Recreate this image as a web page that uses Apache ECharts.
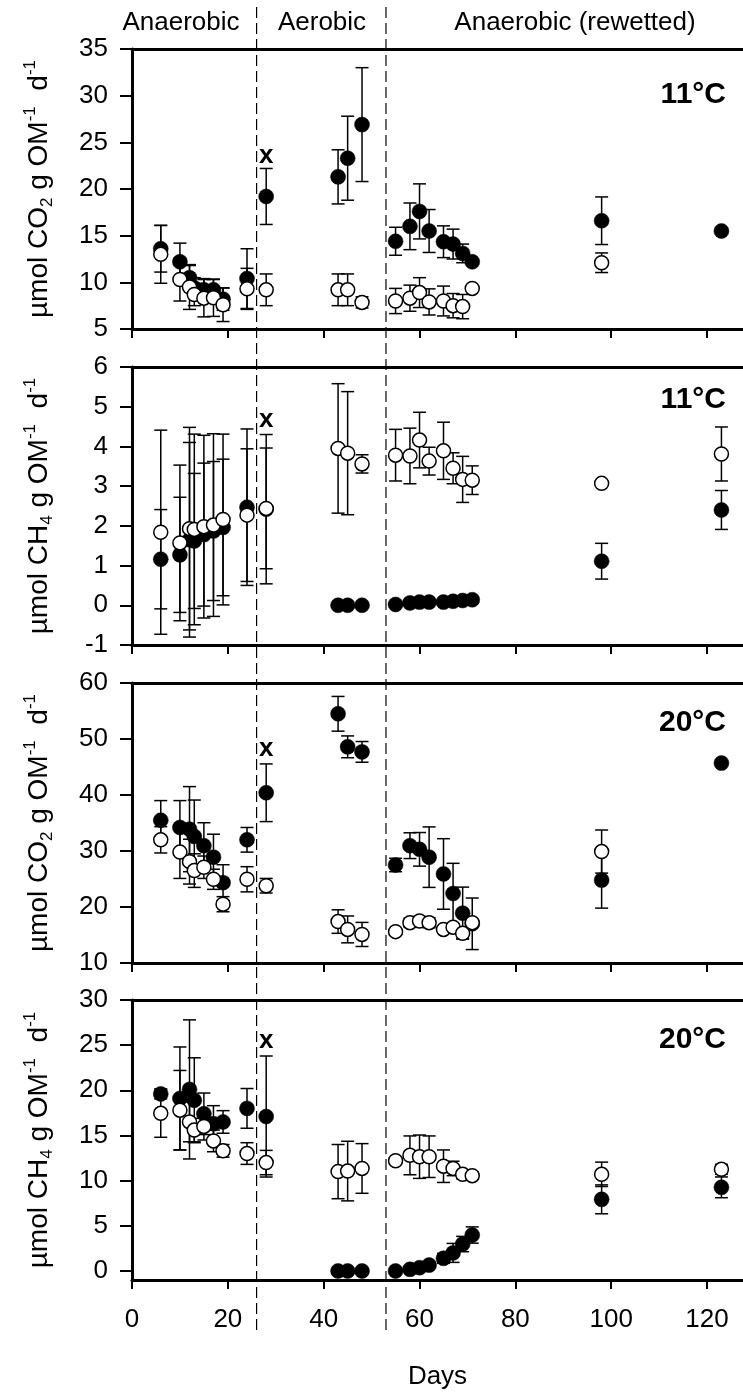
<!DOCTYPE html>
<html>
<head>
<meta charset="utf-8">
<script src="https://cdn.jsdelivr.net/npm/echarts@6/dist/echarts.min.js"></script>
<style>
html, body { margin: 0; padding: 0; background: #fff; }
#chart { width: 743px; height: 1392px; }
</style>
</head>
<body>
<div id="chart"></div>
<script>
// Sampling days (incubation time)
const days = [6, 10, 12, 13, 15, 17, 19, 24, 28, 43, 45, 48, 55, 58, 60, 62, 65, 67, 69, 71, 98, 123];

// CO2 production at 11°C (filled = treatment A, open = treatment B), mean and SD
const co2_11_filled     = [13.6, 12.2, 10.5, 9.4, 9.2, 9.2, 8.2, 10.4, 19.2, 21.3, 23.3, 26.9, 14.4, 16.0, 17.6, 15.5, 14.35, 14.1, 13.1, 12.2, 16.6, 15.5];
const co2_11_filled_err = [2.5, 2.0, 1.3, 1.1, 1.2, 1.1, 1.2, 3.2, 3.0, 2.9, 4.5, 6.1, 1.5, 2.5, 2.95, 2.3, 1.7, 1.6, 1.0, 0, 2.55, 0];
const co2_11_open       = [13.0, 10.3, 9.5, 8.7, 8.3, 8.35, 7.6, 9.3, 9.2, 9.2, 9.2, 7.85, 8.0, 8.3, 8.9, 7.9, 8.0, 7.5, 7.4, 9.35, 12.1, null];
const co2_11_open_err   = [3.1, 2.3, 2.4, 1.2, 2.0, 2.0, 1.8, 2.2, 1.7, 1.7, 1.7, 0.6, 1.35, 1.4, 1.6, 1.4, 1.6, 1.3, 1.3, 0, 1.05, null];

// CH4 production at 11°C
const ch4_11_filled     = [1.16, 1.27, 1.65, 1.62, 1.78, 1.87, 1.96, 2.47, 2.42, 0.0, 0.0, 0.0, 0.02, 0.06, 0.08, 0.08, 0.08, 0.1, 0.12, 0.14, 1.11, 2.40];
const ch4_11_filled_err = [1.25, 1.45, 2.45, 1.7, 1.8, 1.75, 1.72, 1.97, 1.88, 0, 0, 0, 0, 0, 0, 0, 0, 0, 0, 0.08, 0.45, 0.49];
const ch4_11_open       = [1.84, 1.57, 1.93, 1.91, 1.98, 2.02, 2.16, 2.27, 2.44, 3.95, 3.83, 3.56, 3.78, 3.76, 4.16, 3.63, 3.89, 3.45, 3.17, 3.15, 3.07, 3.81];
const ch4_11_open_err   = [2.57, 1.96, 2.55, 2.4, 2.3, 2.3, 2.15, 1.67, 1.52, 1.63, 1.55, 0.23, 0.65, 0.7, 0.7, 0.35, 0.72, 0.39, 0.58, 0.36, 0, 0.68];

// CO2 production at 20°C
const co2_20_filled     = [35.5, 34.2, 33.9, 32.6, 30.95, 28.9, 24.35, 32.0, 40.4, 54.5, 48.6, 47.7, 27.5, 30.95, 30.3, 28.9, 25.9, 22.4, 18.9, 17.0, 24.8, 45.7];
const co2_20_filled_err = [3.5, 4.8, 7.6, 6.5, 4.1, 4.1, 3.2, 2.2, 5.15, 3.1, 1.95, 1.85, 1.2, 2.3, 3.0, 5.4, 6.3, 5.4, 4.65, 4.6, 5.0, 0];
const co2_20_open       = [32.0, 29.8, 28.1, 26.5, 27.1, 24.95, 20.5, 24.95, 23.8, 17.4, 16.0, 15.1, 15.6, 17.2, 17.5, 17.2, 16.0, 16.4, 15.3, 17.2, 29.9, null];
const co2_20_open_err   = [2.35, 4.7, 4.0, 3.0, 2.0, 1.8, 1.35, 2.25, 1.3, 2.1, 2.4, 2.15, 0, 0.8, 0.8, 0.9, 0.5, 0.5, 0.9, 0.6, 3.85, null];

// CH4 production at 20°C
const ch4_20_filled     = [19.6, 19.1, 20.1, 18.9, 17.4, 16.3, 16.5, 18.0, 17.1, 0, 0, 0, 0, 0.18, 0.36, 0.65, 1.4, 2.0, 2.98, 3.98, 7.93, 9.26];
const ch4_20_filled_err = [0.55, 5.7, 7.7, 4.7, 2.3, 2.0, 1.25, 2.2, 6.7, 0, 0, 0, 0, 0, 0, 0, 0.55, 1.05, 0.85, 0.9, 1.6, 1.15];
const ch4_20_open       = [17.45, 17.8, 16.5, 15.6, 16.0, 14.4, 13.3, 13.0, 12.0, 11.0, 11.06, 11.35, 12.2, 12.8, 12.65, 12.65, 11.6, 11.35, 10.7, 10.55, 10.7, 11.25];
const ch4_20_open_err   = [2.65, 4.4, 2.2, 1.3, 1.5, 1.2, 0.7, 1.2, 1.35, 3.0, 3.3, 2.75, 0.3, 2.15, 2.4, 2.3, 1.8, 0.8, 0.5, 0.4, 1.35, 0.55];

// Phase boundaries (days) and phase names
const phaseBounds = [26, 53];
const phaseNames = ['Anaerobic', 'Aerobic', 'Anaerobic (rewetted)'];

// Axis ticks
const xTicks = [0, 20, 40, 60, 80, 100, 120];
const yTicksCO2_11 = [5, 10, 15, 20, 25, 30, 35];
const yTicksCH4_11 = [-1, 0, 1, 2, 3, 4, 5, 6];
const yTicksCO2_20 = [10, 20, 30, 40, 50, 60];
const yTicksCH4_20 = [0, 5, 10, 15, 20, 25, 30];

// Day of the first aerobic sample, flagged with an "x" in each panel
const flagDay = 28;
const flagValues = [23.6, 4.67, 48.2, 25.5];

const panelTemps = ['11°C', '11°C', '20°C', '20°C'];

const FONT = "'Liberation Sans', Arial, sans-serif";
const X_MAX = 127.5;

const panels = [
  { gas: 'CO', sub: '2', min: 5,  max: 35, ticks: yTicksCO2_11, top: 49,   height: 280,
    f: co2_11_filled, fe: co2_11_filled_err, o: co2_11_open, oe: co2_11_open_err },
  { gas: 'CH', sub: '4', min: -1, max: 6,  ticks: yTicksCH4_11, top: 367,  height: 278,
    f: ch4_11_filled, fe: ch4_11_filled_err, o: ch4_11_open, oe: ch4_11_open_err },
  { gas: 'CO', sub: '2', min: 10, max: 60, ticks: yTicksCO2_20, top: 683,  height: 280,
    f: co2_20_filled, fe: co2_20_filled_err, o: co2_20_open, oe: co2_20_open_err },
  { gas: 'CH', sub: '4', min: -1, max: 30, ticks: yTicksCH4_20, top: 1000, height: 280,
    f: ch4_20_filled, fe: ch4_20_filled_err, o: ch4_20_open, oe: ch4_20_open_err }
];

const AXIS_W = 3;
const grids = [], xAxes = [], yAxes = [], series = [], graphics = [];

function errorBarSeries(idx, means, errs) {
  const data = [];
  days.forEach((d, k) => {
    if (means[k] != null && errs[k]) data.push([d, means[k] - errs[k], means[k] + errs[k]]);
  });
  return {
    type: 'custom', xAxisIndex: idx, yAxisIndex: idx, silent: true,
    encode: { x: 0, y: [1, 2] },
    data: data,
    renderItem: function (params, api) {
      const x = api.value(0);
      const lo = api.coord([x, api.value(1)]);
      const hi = api.coord([x, api.value(2)]);
      const hw = 6.5;
      const st = { stroke: '#000', lineWidth: 1.5 };
      return {
        type: 'group',
        children: [
          { type: 'line', shape: { x1: hi[0], y1: hi[1], x2: lo[0], y2: lo[1] }, style: st },
          { type: 'line', shape: { x1: hi[0] - hw, y1: hi[1], x2: hi[0] + hw, y2: hi[1] }, style: st },
          { type: 'line', shape: { x1: lo[0] - hw, y1: lo[1], x2: lo[0] + hw, y2: lo[1] }, style: st }
        ]
      };
    }
  };
}

function pointSeries(idx, means, filled) {
  const data = [];
  days.forEach((d, k) => { if (means[k] != null) data.push([d, means[k]]); });
  return {
    type: 'scatter', xAxisIndex: idx, yAxisIndex: idx, silent: true,
    symbol: 'circle', symbolSize: filled ? 15 : 14,
    itemStyle: filled
      ? { color: '#000', borderColor: '#000', borderWidth: 0.5, opacity: 1 }
      : { color: '#fff', borderColor: '#000', borderWidth: 1.5, opacity: 1 },
    data: data
  };
}

panels.forEach((p, i) => {
  const last = i === panels.length - 1;
  grids.push({ left: 132, right: 0, top: p.top, height: p.height, containLabel: false });

  // bottom axis of the panel
  xAxes.push({
    type: 'value', gridIndex: i, min: 0, max: X_MAX, interval: 20, position: 'bottom',
    splitLine: { show: false },
    axisLine: { show: true, onZero: false, lineStyle: { color: '#000', width: AXIS_W } },
    axisTick: { show: true, inside: false, length: 9, customValues: xTicks, lineStyle: { color: '#000', width: 2 } },
    axisLabel: { show: last, customValues: xTicks, margin: 27, color: '#000', fontSize: 26, fontFamily: FONT },
    name: last ? 'Days' : '', nameLocation: 'middle', nameGap: 84,
    nameTextStyle: { color: '#000', fontSize: 26, fontFamily: FONT }
  });
  yAxes.push({
    type: 'value', gridIndex: i, min: p.min, max: p.max,
    splitLine: { show: false },
    axisLine: { show: true, onZero: false, lineStyle: { color: '#000', width: AXIS_W } },
    axisTick: { show: true, inside: false, length: 12, customValues: p.ticks, lineStyle: { color: '#000', width: 2 } },
    axisLabel: { customValues: p.ticks, margin: 24, color: '#000', fontSize: 26, fontFamily: FONT },
    name: '{n|µmol ' + p.gas + '}{sub|' + p.sub + '}{n| g OM}{sup|-1}{n|  d}{sup|-1}',
    nameLocation: 'middle', nameRotate: 90, nameGap: 76,
    nameTextStyle: {
      color: '#000', fontFamily: FONT,
      rich: {
        n:   { fontSize: 28, fontFamily: FONT, color: '#000', lineHeight: 34 },
        sub: { fontSize: 17, fontFamily: FONT, color: '#000', verticalAlign: 'bottom', lineHeight: 16 },
        sup: { fontSize: 17, fontFamily: FONT, color: '#000', verticalAlign: 'top', lineHeight: 16 }
      }
    }
  });
});

// Top border line of every panel: a second, label-free x axis
panels.forEach((p, i) => {
  xAxes.push({
    type: 'value', gridIndex: i, min: 0, max: X_MAX, position: 'top',
    splitLine: { show: false }, axisTick: { show: false }, axisLabel: { show: false },
    axisLine: { show: true, onZero: false, lineStyle: { color: '#000', width: AXIS_W } }
  });
});

// Full-height overlay grid for the phase boundaries
const OV = panels.length * 2; // x axis index of the overlay
grids.push({ left: 132, right: 0, top: 5, height: 1325 });
xAxes.push({ type: 'value', gridIndex: panels.length, min: 0, max: X_MAX, show: false });
yAxes.push({ type: 'value', gridIndex: panels.length, min: 0, max: 1, show: false });
phaseBounds.forEach(b => {
  series.push({
    type: 'line', xAxisIndex: OV, yAxisIndex: panels.length, silent: true,
    symbol: 'none', z: 1,
    lineStyle: { color: '#000', width: 1.2, type: [11, 5] },
    data: [[b, 0], [b, 1]]
  });
});

panels.forEach((p, i) => {
  series.push(errorBarSeries(i, p.f, p.fe));
  series.push(pointSeries(i, p.f, true));
  series.push(errorBarSeries(i, p.o, p.oe));
  series.push(pointSeries(i, p.o, false));
  // "x" flag above the first aerobic sample
  series.push({
    type: 'scatter', xAxisIndex: i, yAxisIndex: i, silent: true,
    symbolSize: 0, itemStyle: { color: '#000', opacity: 1 },
    label: { show: true, position: 'inside', formatter: 'x', color: '#000', opacity: 1,
             fontSize: 26, fontWeight: 'bold', fontFamily: FONT },
    data: [[flagDay, flagValues[i]]]
  });
});

// Temperature label in each panel
const tempY = [95, 400, 723, 1040];
panels.forEach((p, i) => {
  graphics.push({
    type: 'text', x: 726, y: tempY[i],
    style: { text: panelTemps[i], font: 'bold 30px ' + FONT, fill: '#000',
             textAlign: 'right', textVerticalAlign: 'middle' }
  });
});

// Phase names along the top
const phaseX = [181, 322, 575];
phaseNames.forEach((t, i) => {
  graphics.push({
    type: 'text', x: phaseX[i], y: 23,
    style: { text: t, font: '26px ' + FONT, fill: '#000', textAlign: 'center', textVerticalAlign: 'middle' }
  });
});

const chart = echarts.init(document.getElementById('chart'), null, { renderer: 'canvas' });
chart.setOption({
  animation: false,
  backgroundColor: '#fff',
  grid: grids,
  xAxis: xAxes,
  yAxis: yAxes,
  series: series,
  graphic: graphics
});
</script>
</body>
</html>
